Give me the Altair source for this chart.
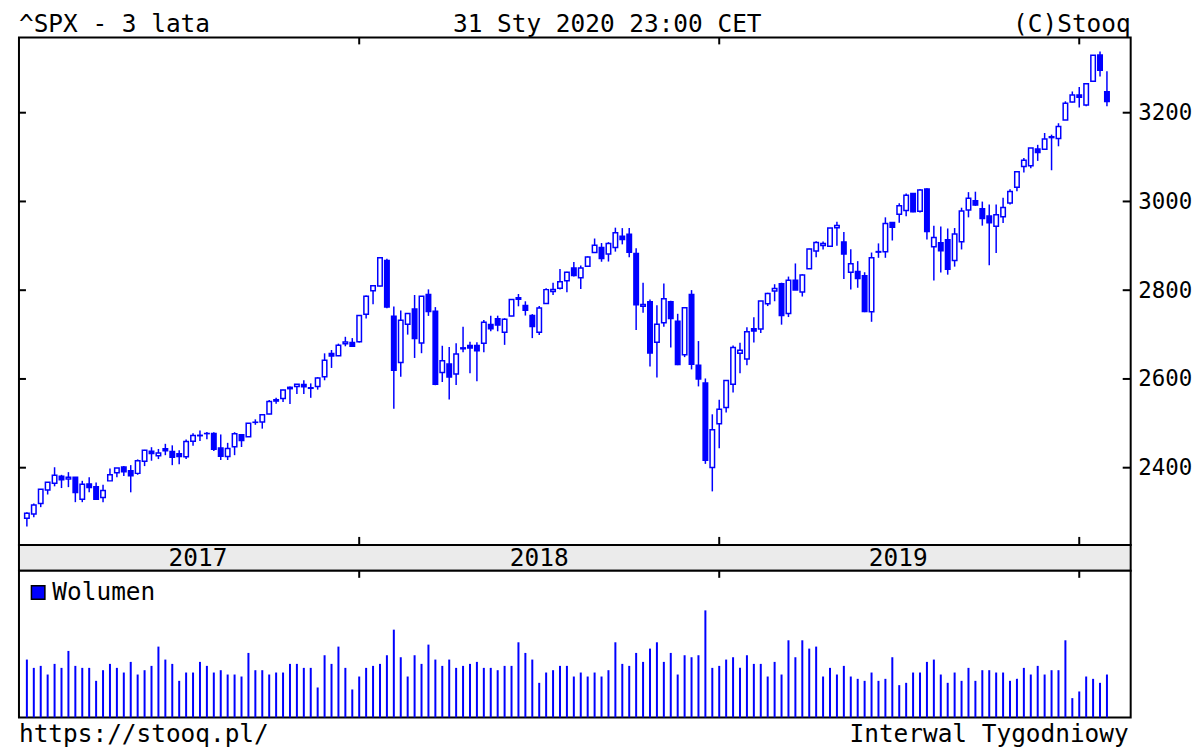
import altair as alt
import pandas as pd

# ---------------- data (weekly candles, week-ending dates) ----------------
dates = pd.date_range("2017-02-03", periods=157, freq="W-FRI").strftime("%Y-%m-%d").tolist()

open_2017 = [2286.0, 2295.9, 2319.2, 2350.0, 2365.2, 2380.9, 2374.4, 2378.2, 2329.1, 2363.5,
             2357.2, 2332.6, 2370.3, 2388.5, 2401.4, 2393.0, 2387.2, 2414.5, 2437.0, 2427.0,
             2442.5, 2436.3, 2431.4, 2424.5, 2459.5, 2473.0, 2477.1, 2477.1, 2444.2, 2425.5,
             2447.3, 2474.4, 2469.6, 2502.5, 2503.0, 2521.2, 2550.2, 2555.7, 2578.1, 2583.0,
             2587.5, 2580.2, 2582.9, 2605.1, 2657.2, 2652.2, 2679.1, 2682.1]
high_2017 = [2299.4, 2319.2, 2351.3, 2367.8, 2401.0, 2383.9, 2390.0, 2378.9, 2370.4, 2378.4,
             2366.4, 2361.4, 2398.2, 2399.3, 2403.9, 2405.8, 2418.7, 2440.2, 2446.2, 2442.2,
             2453.8, 2450.4, 2439.2, 2463.5, 2477.6, 2484.0, 2480.4, 2480.0, 2474.9, 2456.0,
             2480.0, 2474.5, 2500.2, 2508.9, 2519.4, 2552.5, 2557.7, 2575.4, 2583.0, 2588.4,
             2597.0, 2590.0, 2604.2, 2657.7, 2665.2, 2679.6, 2695.0, 2692.1]
low_2017 = [2267.2, 2288.5, 2311.1, 2339.6, 2358.0, 2354.1, 2356.2, 2322.3, 2322.3, 2344.7,
            2328.9, 2322.3, 2370.3, 2378.5, 2381.5, 2344.5, 2384.0, 2403.6, 2415.7, 2419.4,
            2428.2, 2405.7, 2407.7, 2419.5, 2449.4, 2459.9, 2464.1, 2437.8, 2417.4, 2417.4,
            2428.2, 2446.6, 2469.6, 2496.7, 2488.0, 2520.4, 2544.0, 2547.9, 2543.6, 2566.3,
            2566.3, 2557.5, 2575.9, 2597.0, 2624.8, 2651.5, 2673.6, 2673.6]
close_2017 = [2297.4, 2316.1, 2351.2, 2367.3, 2383.1, 2372.6, 2378.3, 2344.0, 2362.7, 2355.5,
              2328.9, 2348.7, 2384.2, 2399.3, 2390.9, 2381.7, 2415.8, 2439.1, 2431.8, 2433.2,
              2438.3, 2423.4, 2425.2, 2459.3, 2472.5, 2472.1, 2476.8, 2441.3, 2425.6, 2443.1,
              2476.6, 2461.4, 2500.2, 2502.2, 2519.4, 2549.3, 2553.2, 2575.2, 2581.1, 2587.8,
              2582.3, 2578.9, 2602.4, 2642.2, 2651.5, 2675.8, 2683.3, 2673.6]

open_2018 = [2683.7, 2745.6, 2799.0, 2809.2, 2867.2, 2741.1, 2636.8, 2723.0, 2757.4, 2681.1,
             2790.5, 2752.7, 2614.4, 2633.5, 2611.3, 2668.0, 2675.4, 2675.5, 2680.3, 2722.7,
             2735.4, 2705.0, 2741.7, 2783.2, 2765.8, 2742.9, 2705.0, 2770.0, 2796.9, 2804.6,
             2821.2, 2849.8, 2827.9, 2853.9, 2884.7, 2896.0, 2881.4, 2896.0, 2921.8, 2926.3,
             2882.5, 2763.8, 2773.9, 2682.7, 2726.4, 2773.9, 2730.1, 2654.6, 2790.5, 2630.9,
             2590.8, 2400.6]
high_2018 = [2743.5, 2787.9, 2810.3, 2872.9, 2870.6, 2763.4, 2754.4, 2747.8, 2789.2, 2786.6,
             2801.9, 2761.9, 2674.8, 2672.1, 2680.3, 2717.5, 2683.6, 2682.9, 2732.9, 2742.2,
             2742.6, 2736.9, 2779.9, 2791.5, 2775.0, 2746.1, 2764.4, 2804.4, 2816.8, 2848.0,
             2841.6, 2863.4, 2855.6, 2876.2, 2916.5, 2906.3, 2908.3, 2940.9, 2939.9, 2939.9,
             2894.8, 2816.9, 2778.9, 2766.0, 2815.2, 2776.0, 2746.8, 2760.9, 2800.2, 2685.4,
             2601.1, 2520.3]
low_2018 = [2682.4, 2736.1, 2768.6, 2808.1, 2759.1, 2532.7, 2605.0, 2699.9, 2647.3, 2658.0,
            2742.1, 2585.9, 2593.1, 2553.8, 2586.3, 2660.3, 2612.7, 2594.6, 2660.0, 2707.4,
            2707.4, 2676.8, 2741.3, 2763.7, 2742.9, 2692.0, 2699.0, 2769.2, 2789.2, 2801.8,
            2795.1, 2830.9, 2802.5, 2853.8, 2884.7, 2864.1, 2864.6, 2886.9, 2903.3, 2874.0,
            2710.5, 2749.2, 2628.2, 2603.5, 2717.9, 2670.8, 2631.1, 2649.2, 2621.5, 2583.2,
            2408.6, 2346.6]
close_2018 = [2743.2, 2786.2, 2810.3, 2872.9, 2762.1, 2619.6, 2732.2, 2747.3, 2691.3, 2786.6,
              2752.0, 2588.3, 2640.9, 2604.5, 2656.3, 2670.1, 2669.9, 2663.4, 2727.7, 2713.0,
              2721.3, 2734.6, 2779.0, 2779.7, 2754.9, 2718.4, 2759.8, 2801.3, 2801.8, 2818.8,
              2840.4, 2833.3, 2850.1, 2874.7, 2901.5, 2871.7, 2905.0, 2929.7, 2914.0, 2885.6,
              2767.1, 2767.8, 2658.7, 2723.1, 2781.0, 2736.3, 2632.6, 2760.2, 2633.1, 2600.0,
              2416.6, 2485.7]

open_2019 = [2498.9, 2535.6, 2588.1, 2657.9, 2644.9, 2713.2, 2712.4, 2769.3, 2798.2, 2814.4,
             2747.6, 2822.6, 2796.0, 2848.6, 2888.3, 2900.9, 2898.8, 2940.6, 2908.9, 2840.2,
             2841.9, 2832.4, 2751.5, 2885.8, 2886.8, 2952.7, 2971.4, 2979.8, 3017.8, 2977.7,
             3028.0, 2898.1, 2907.1, 2913.5, 2866.7, 2909.0, 2980.8, 3001.5, 2983.5, 2967.1,
             2944.2, 2965.8, 2996.5, 3032.1, 3078.9, 3080.3, 3118.0, 3117.4, 3143.9, 3141.9,
             3183.6, 3224.3]
high_2019 = [2553.4, 2597.8, 2675.5, 2681.4, 2716.7, 2739.0, 2775.7, 2794.2, 2813.5, 2816.9,
             2830.7, 2860.3, 2836.0, 2893.4, 2910.5, 2909.5, 2939.9, 2954.1, 2931.0, 2892.2,
             2865.5, 2840.5, 2884.9, 2905.5, 2964.2, 2952.7, 2995.8, 3017.8, 3017.8, 3028.0,
             3029.5, 2945.0, 2943.3, 2939.1, 2940.1, 2985.9, 3021.0, 3022.0, 2999.7, 2993.3,
             2993.3, 3008.3, 3027.4, 3067.0, 3097.8, 3120.5, 3127.6, 3154.3, 3150.6, 3176.3,
             3225.7, 3247.9]
low_2019 = [2444.0, 2524.6, 2569.4, 2612.7, 2631.1, 2682.0, 2703.8, 2764.2, 2775.1, 2722.3,
            2739.5, 2800.7, 2785.7, 2848.6, 2874.0, 2891.9, 2898.2, 2900.0, 2825.4, 2801.4,
            2805.5, 2750.5, 2728.8, 2873.0, 2873.0, 2912.0, 2952.2, 2966.4, 2975.4, 2975.2,
            2914.1, 2822.1, 2840.0, 2835.0, 2853.1, 2891.8, 2964.2, 2990.0, 2945.5, 2856.0,
            2884.0, 2951.6, 2993.0, 3023.2, 3065.0, 3075.1, 3091.4, 3117.4, 3070.3, 3124.3,
            3183.5, 3223.2]
close_2019 = [2531.9, 2596.3, 2670.7, 2664.8, 2706.5, 2707.9, 2775.6, 2792.7, 2803.7, 2743.1,
              2822.5, 2800.7, 2834.4, 2892.7, 2907.4, 2905.0, 2939.9, 2945.6, 2881.4, 2859.5,
              2826.1, 2752.1, 2873.3, 2887.0, 2950.5, 2941.8, 2990.4, 3013.8, 2976.6, 3025.9,
              2932.1, 2918.7, 2888.7, 2847.1, 2926.5, 2978.7, 3007.4, 2992.1, 2961.8, 2952.0,
              2970.3, 2986.2, 3022.6, 3066.9, 3093.1, 3120.5, 3110.3, 3141.0, 3145.9, 3168.8,
              3221.2, 3240.0]

open_2020 = [3240.1, 3217.6, 3271.1, 3330.0, 3247.2]
high_2020 = [3258.1, 3267.1, 3329.9, 3337.8, 3293.5]
low_2020 = [3212.0, 3214.6, 3270.0, 3281.5, 3214.7]
close_2020 = [3234.9, 3265.4, 3329.6, 3295.5, 3225.5]

volumes = [174, 149, 155, 129, 161, 149, 200, 155, 149, 149,
           110, 142, 161, 149, 135, 167, 129, 142, 155, 213,
           174, 161, 110, 135, 135, 167, 155, 135, 142, 129,
           129, 123, 194, 142, 142, 129, 135, 135, 161, 161,
           149, 149, 90, 187, 161, 213, 149, 84, 123, 149,
           155, 161, 187, 264,
           181, 123, 187, 161, 219, 174, 155, 174, 149, 155,
           161, 167, 149, 149, 142, 155, 155, 226, 194, 174,
           104, 135, 142, 155, 155, 123, 135, 123, 135, 123,
           142, 226, 161, 155, 194, 167, 207, 226, 167, 194,
           129, 187, 181, 187, 322, 149, 155, 174, 181, 149,
           187, 161, 161, 123,
           167, 129, 232, 181, 232, 207, 213, 123, 149, 129,
           155, 123, 116, 110, 135, 110, 116, 181, 97, 104,
           135, 135, 167, 174, 129, 104, 135, 110, 149, 110,
           142, 142, 135, 135, 110, 116, 149, 129, 155, 129,
           142, 142, 232, 58, 78, 123, 116, 104, 129]

price_ticks = [2400, 2600, 2800, 3000, 3200]
year_starts = ["2018-01-05", "2019-01-04", "2020-01-03"]
year_labels = ["2017", "2018", "2019"]
year_label_dates = ["2017-07-26", "2018-07-06", "2019-07-04"]

opens = open_2017 + open_2018 + open_2019 + open_2020
highs = high_2017 + high_2018 + high_2019 + high_2020
lows = low_2017 + low_2018 + low_2019 + low_2020
closes = close_2017 + close_2018 + close_2019 + close_2020

df = pd.DataFrame({"date": dates, "open": opens, "high": highs, "low": lows,
                   "close": closes, "volume": volumes})
ticks_df = pd.DataFrame({"price": price_ticks})
ys_df = pd.DataFrame({"date": year_starts})
yl_df = pd.DataFrame({"date": year_label_dates, "year": year_labels})
one = pd.DataFrame({"k": [0]})

# ---------------- styling ----------------
BLUE = "#0000ff"
FONT = "DejaVu Sans Mono"
FS = 24.5
W = 1115
H_PRICE = 509
H_BAND = 26
H_VOL = 147

xscale = alt.Scale(type="utc", nice=False, padding=0,
                   domain=[alt.DateTime(year=2017, month=1, date=26, utc=True),
                           alt.DateTime(year=2020, month=2, date=24, utc=True)])
X = alt.X("date:T", scale=xscale, axis=None)
yscale = alt.Scale(domain=[2226, 3369.7], nice=False, zero=False, padding=0)
yaxis = alt.Axis(orient="right", values=price_ticks, format="d", ticks=False, tickSize=0,
                 domain=False, grid=False, title=None, labelFont=FONT, labelFontSize=22.5,
                 labelColor="black", labelPadding=7, labelAlign="left", labelBaseline="middle")
frame = alt.ViewBackground(stroke="black", strokeWidth=2, fill="white")

wicks = alt.Chart(df).mark_rule(color=BLUE, strokeWidth=1.5).encode(
    x=X, y=alt.Y("low:Q", scale=yscale, axis=yaxis), y2="high:Q")
bodies = alt.Chart(df).mark_bar(size=4.5, stroke=BLUE, strokeWidth=1.5).encode(
    x=X, y=alt.Y("open:Q", scale=yscale, axis=yaxis), y2="close:Q",
    fill=alt.when(alt.datum.close >= alt.datum.open).then(alt.value("white")).otherwise(alt.value(BLUE)))
tick_l = alt.Chart(ticks_df).mark_rule(color="black", strokeWidth=2).encode(
    y=alt.Y("price:Q", scale=yscale, axis=yaxis), x=alt.value(0), x2=alt.value(7))
tick_r = alt.Chart(ticks_df).mark_rule(color="black", strokeWidth=2).encode(
    y=alt.Y("price:Q", scale=yscale, axis=yaxis), x=alt.value(W - 8), x2=alt.value(W))
ytop = alt.Chart(ys_df).mark_rule(color="black", strokeWidth=2).encode(
    x=X, y=alt.value(0), y2=alt.value(7))
ybot = alt.Chart(ys_df).mark_rule(color="black", strokeWidth=2).encode(
    x=X, y=alt.value(H_PRICE - 8), y2=alt.value(H_PRICE))


def label(txt, xv, yv, align):
    return alt.Chart(one).mark_text(text=txt, align=align, baseline="alphabetic", font=FONT,
                                    fontSize=FS, color="black").encode(x=alt.value(xv), y=alt.value(yv))


price = alt.layer(
    wicks, bodies, tick_l, tick_r, ytop, ybot,
    label("^SPX - 3 lata", 0, -5.5, "left"),
    label("31 Sty 2020 23:00 CET", 590, -5.5, "center"),
    label("(C)Stooq", W, -5.5, "right"),
).properties(width=W, height=H_PRICE, view=frame)

band = alt.Chart(yl_df).mark_text(font=FONT, fontSize=FS, color="black", baseline="alphabetic",
                                  align="center").encode(
    x=X, y=alt.value(21), text="year:N"
).properties(width=W, height=H_BAND,
             view=alt.ViewBackground(stroke="black", strokeWidth=2, fill="#ebebeb"))

vol_bars = alt.Chart(df).mark_bar(size=2, color=BLUE).encode(
    x=X, y=alt.Y("volume:Q", scale=alt.Scale(domain=[0, 441], nice=False), axis=None))
vtop = alt.Chart(ys_df).mark_rule(color="black", strokeWidth=2).encode(
    x=X, y=alt.value(0), y2=alt.value(7))
swatch = alt.Chart(one).mark_rect(fill=BLUE, stroke="black", strokeWidth=1.5).encode(
    x=alt.value(12.5), x2=alt.value(26), y=alt.value(15), y2=alt.value(28.5))

vol = alt.layer(
    vol_bars, vtop, swatch,
    label("Wolumen", 33.5, 29, "left"),
    label("https://stooq.pl/", 0, H_VOL + 25, "left"),
    label("Interwal Tygodniowy", W - 2, H_VOL + 25, "right"),
).properties(width=W, height=H_VOL, view=frame)

chart = alt.vconcat(price, band, vol, spacing=0, bounds="flush").properties(
    padding={"left": 9, "top": 1.4, "right": -1.5, "bottom": 0},
    background="white",
)

chart.save("out.html", embed_options={"renderer": "svg", "actions": False})
